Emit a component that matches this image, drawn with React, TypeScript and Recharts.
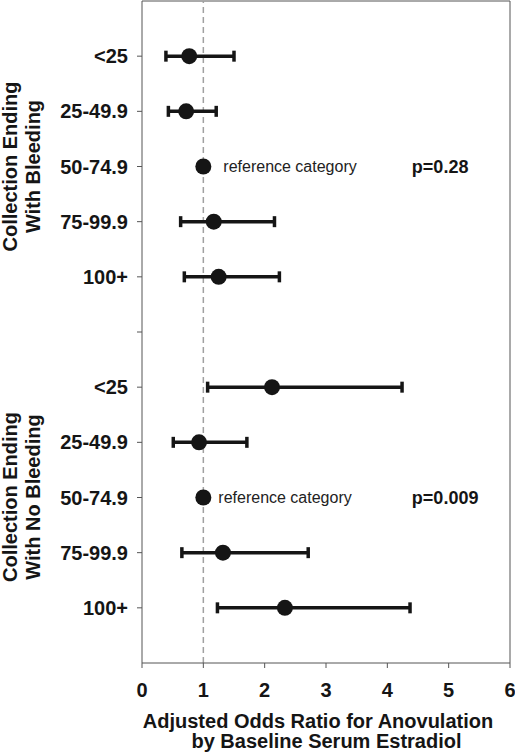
import React from "react"
import {
  ScatterChart,
  Scatter,
  XAxis,
  YAxis,
  ErrorBar,
  ReferenceLine,
  ReferenceDot,
} from "recharts"

const groups = [
  ["Collection Ending", "With Bleeding"],
  ["Collection Ending", "With No Bleeding"],
]
const categories = ["<25", "25-49.9", "50-74.9", "75-99.9", "100+"]
const referenceIndex = 2

const bleedingOR = [0.77, 0.72, 1, 1.17, 1.25]
const bleedingLow = [0.39, 0.43, 1, 0.63, 0.69]
const bleedingHigh = [1.5, 1.21, 1, 2.16, 2.24]

const noBleedingOR = [2.12, 0.93, 1, 1.32, 2.33]
const noBleedingLow = [1.07, 0.51, 1, 0.65, 1.23]
const noBleedingHigh = [4.24, 1.71, 1, 2.71, 4.37]

const pValues = ["p=0.28", "p=0.009"]
const xTicks = [0, 1, 2, 3, 4, 5, 6]
const xTitle = ["Adjusted Odds Ratio for Anovulation", "by Baseline Serum Estradiol"]

const FONT = "Arial, 'Liberation Sans', Helvetica, sans-serif"
const INK = "#151515"
const AXIS = "#555"

const series = [
  { or: bleedingOR, low: bleedingLow, high: bleedingHigh },
  { or: noBleedingOR, low: noBleedingLow, high: noBleedingHigh },
]

// row position on the y axis: one empty slot between the two groups
const rows = series.flatMap((s, g) =>
  categories.map((cat, i) => ({
    label: cat,
    row: g * 6 + i + 1,
    or: s.or[i],
    err: [s.or[i] - s.low[i], s.high[i] - s.or[i]],
  }))
)

const rowLabels: Record<number, string> = {}
rows.forEach((r) => (rowLabels[r.row] = r.label))
const yTicks = [1, 2, 3, 4, 5, 6, 7, 8, 9, 10, 11]

function RowTick({ x, y, payload }: { x?: number; y?: number; payload?: { value: number } }) {
  const text = payload ? rowLabels[payload.value] ?? "" : ""
  return (
    <text x={x} y={y} dy={7} textAnchor="end" fontFamily={FONT} fontWeight="bold" fontSize={20} fill={INK}>
      {text}
    </text>
  )
}

function Dot({ cx, cy }: { cx?: number; cy?: number }) {
  return <circle cx={cx} cy={cy} r={8} fill={INK} />
}

export default function App() {
  return (
    <div style={{ position: "absolute", left: 0, top: 0, width: 515, height: 756, background: "#fff" }}>
      <ScatterChart width={515} height={756} margin={{ top: 1, right: 5, left: 0, bottom: 0 }}>
        <XAxis
          type="number"
          dataKey="or"
          domain={[0, 6]}
          ticks={xTicks}
          interval={0}
          tickSize={5}
          tickMargin={15}
          height={93}
          stroke={AXIS}
          tick={{ fontFamily: FONT, fontWeight: "bold", fontSize: 20, fill: INK }}
        />
        <YAxis
          type="number"
          dataKey="row"
          domain={[0, 12]}
          reversed
          ticks={yTicks}
          interval={0}
          tickSize={5}
          tickMargin={9}
          width={142}
          stroke={AXIS}
          tick={<RowTick />}
        />
        <ReferenceLine y={0} stroke={AXIS} />
        <ReferenceLine x={6} stroke={AXIS} />
        <ReferenceLine x={1} stroke="#a0a0a0" strokeWidth={1.5} strokeDasharray="6 4" />
        <Scatter data={rows} shape={<Dot />} isAnimationActive={false}>
          <ErrorBar dataKey="err" direction="x" width={5.5} strokeWidth={3.5} stroke={INK} />
        </Scatter>
        {groups.map((_, g) => (
          <ReferenceDot
            key={`ref-${g}`}
            x={1}
            y={g * 6 + referenceIndex + 1}
            r={0}
            fill="none"
            stroke="none"
            label={{
              value: "reference category",
              position: "right",
              offset: g === 0 ? 20 : 15,
              fontFamily: FONT,
              fontSize: 16,
              fill: "#222",
            }}
          />
        ))}
        {pValues.map((p, g) => (
          <ReferenceDot
            key={`p-${g}`}
            x={4.4}
            y={g * 6 + referenceIndex + 1}
            r={0}
            fill="none"
            stroke="none"
            label={{
              value: p,
              position: "right",
              offset: 0,
              fontFamily: FONT,
              fontSize: 18,
              fontWeight: "bold",
              fill: INK,
            }}
          />
        ))}
      </ScatterChart>
      <svg
        width={515}
        height={756}
        style={{ position: "absolute", left: 0, top: 0, pointerEvents: "none" }}
      >
        {groups.map((lines, g) => {
          const cy = g === 0 ? 166.5 : 497
          return (
            <g key={g} fontFamily={FONT} fontWeight="bold" fontSize={20} fill={INK} textAnchor="middle">
              <text transform={`translate(16.5, ${cy}) rotate(-90)`}>{lines[0]}</text>
              <text transform={`translate(40, ${cy}) rotate(-90)`}>{lines[1]}</text>
            </g>
          )
        })}
        <g fontFamily={FONT} fontWeight="bold" fontSize={20} fill={INK} textAnchor="middle">
          <text x={318} y={728}>{xTitle[0]}</text>
          <text x={326.5} y={748}>{xTitle[1]}</text>
        </g>
      </svg>
    </div>
  )
}
